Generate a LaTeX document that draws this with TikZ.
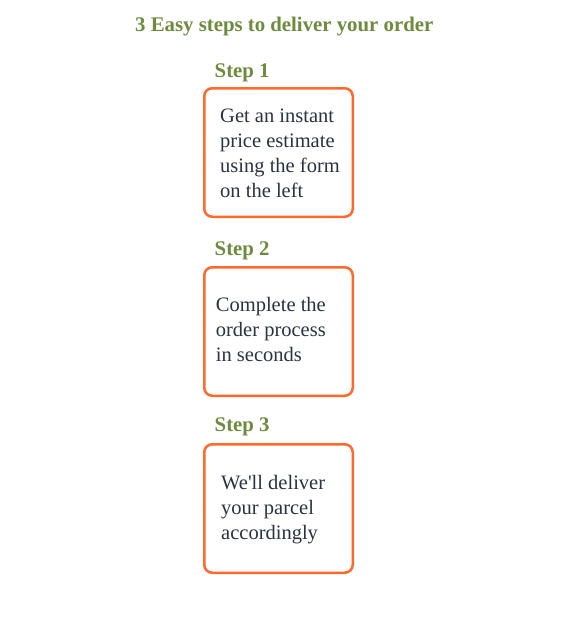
\documentclass[tikz,border=0pt]{standalone}
\usepackage{fontspec}
\setmainfont{Liberation Serif}
\newfontfamily\plainserif{Liberation Serif}
\definecolor{stepgreen}{HTML}{6E8B3D}
\definecolor{boxorange}{HTML}{FF6A2C}
\definecolor{bodytext}{HTML}{2A3342}
\newcommand{\steplines}[1]{\parbox[t]{140pt}{\plainserif\fontsize{20.5}{25}\selectfont\raggedright #1\par}}
\begin{document}
\begin{tikzpicture}[x=1pt,y=-1pt,
  headtext/.style={font=\fontsize{20.8}{25}\selectfont\bfseries, text=stepgreen, inner sep=0pt, anchor=base west},
  stepbox/.style={draw=boxorange, line width=2.5pt, rounded corners=8pt, minimum width=148.5pt, minimum height=128.5pt, inner sep=0pt},
  bodynode/.style={text=bodytext, inner sep=0pt, anchor=base west}]
\useasboundingbox[fill=white] (0,0) rectangle (577,627);
\node[headtext] (title) at (135,31.7) {3 Easy steps to deliver your order};
\node[headtext] (s1) at (214.5,77.7) {Step 1};
\node[headtext] (s2) at (214.5,255) {Step 2};
\node[headtext] (s3) at (214.5,431.7) {Step 3};
\node[stepbox] (b1) at (278.5,152.5) {};
\node[stepbox] (b2) at (278.5,331.5) {};
\node[stepbox] (b3) at (278.5,508.5) {};
\node[bodynode] (t1) at (220,122) {\steplines{Get an instant\\price estimate\\using the form\\on the left}};
\node[bodynode] (t2) at (215.7,311.7) {\steplines{Complete the\\order process\\in seconds}};
\node[bodynode] (t3) at (221,489) {\steplines{We'll deliver\\your parcel\\accordingly}};
\end{tikzpicture}
\end{document}
